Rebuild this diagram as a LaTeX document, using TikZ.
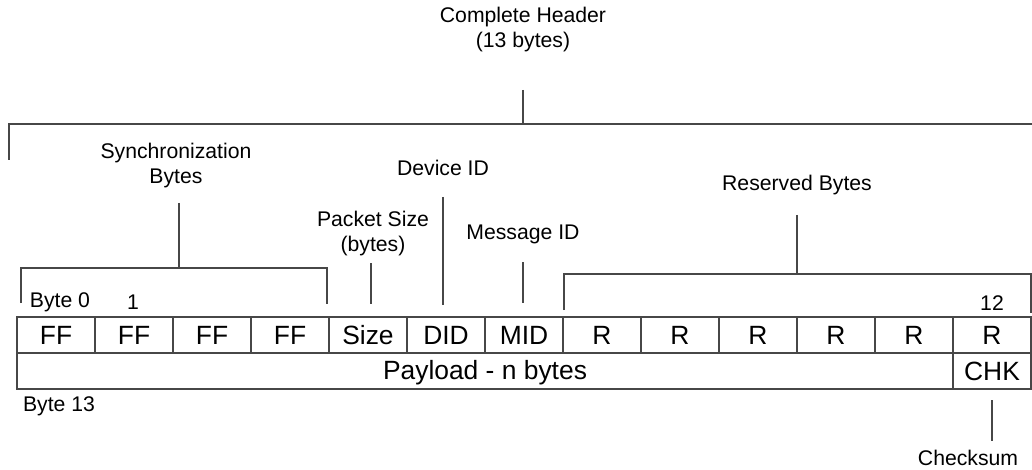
\documentclass[tikz,border=0pt]{standalone}
\usepackage{fontspec}
\setmainfont{Liberation Sans}
\begin{document}
\begin{tikzpicture}[x=1pt,y=-1pt,
  line width=1.3pt,
  ln/.style={draw=black!72, line width=1.3pt},
  lbl/.style={font=\fontsize{21.2}{25}\selectfont, align=center, inner sep=0pt},
  cell/.style={ln, font=\fontsize{26.4}{30}\selectfont, minimum width=78pt, minimum height=36pt,
               text height=19pt, text depth=0pt,
               inner sep=0pt, outer sep=0pt, anchor=north west},
  wide/.style={cell, minimum width=936pt, text depth=3pt}]
\useasboundingbox (0,0) rectangle (1032,470);

% header row: 13 bytes
\foreach \t [count=\i from 0] in {FF,FF,FF,FF,Size,DID,MID,R,R,R,R,R,R}
  \node[cell] (c\i) at ({17+78*\i},317) {\t};
% second row: payload and checksum
\node[wide] (payload) at (17,353) {Payload - n bytes};
\node[cell] (chk) at (953,353) {CHK};

% labels
\node[lbl] (hdr) at (523,30) {Complete Header\\(13 bytes)};
\node[lbl] (sync) at (176,165.5) {Synchronization\\Bytes};
\node[lbl] (psize) at (373,233.5) {Packet Size\\(bytes)};
\node[lbl] (devid) at (443,168) {Device ID};
\node[lbl] (msgid) at (523,234) {Message ID};
\node[lbl] (resv) at (797,185) {Reserved Bytes};
\node[lbl] (b0) at (60,302) {Byte 0};
\node[lbl] (b1) at (133,302) {1};
\node[lbl] (b12) at (992,303) {12};
\node[lbl] (b13) at (59,406) {Byte 13};
\node[lbl] (cks) at (968,458) {Checksum};

% bracket and stem anchor points
\coordinate (hdrA) at (523,90);  \coordinate (hdrB) at (523,124);
\coordinate (syncA) at (179,203); \coordinate (syncB) at (179,268);
\coordinate (psA) at (371,263);  \coordinate (psB) at (371,304);
\coordinate (didA) at (443,197); \coordinate (didB) at (443,305);
\coordinate (midA) at (523,262); \coordinate (midB) at (523,303);
\coordinate (rsA) at (797,215);  \coordinate (rsB) at (797,274);
\coordinate (ckA) at (992,400);  \coordinate (ckB) at (992,441);

% complete header bracket (open at the right)
\draw[ln] (9,160) -- (9,124) -- (1032,124);
\draw[ln] (hdrA) -- (hdrB);
% synchronization bracket
\draw[ln] (21,303) -- (21,268) -- (327,268) -- (327,304);
\draw[ln] (syncA) -- (syncB);
% reserved bracket
\draw[ln] (564,310) -- (564,274) -- (1031,274) -- (1031,313);
\draw[ln] (rsA) -- (rsB);
% single field stems
\draw[ln] (psA) -- (psB);
\draw[ln] (didA) -- (didB);
\draw[ln] (midA) -- (midB);
\draw[ln] (ckA) -- (ckB);
\end{tikzpicture}
\end{document}
